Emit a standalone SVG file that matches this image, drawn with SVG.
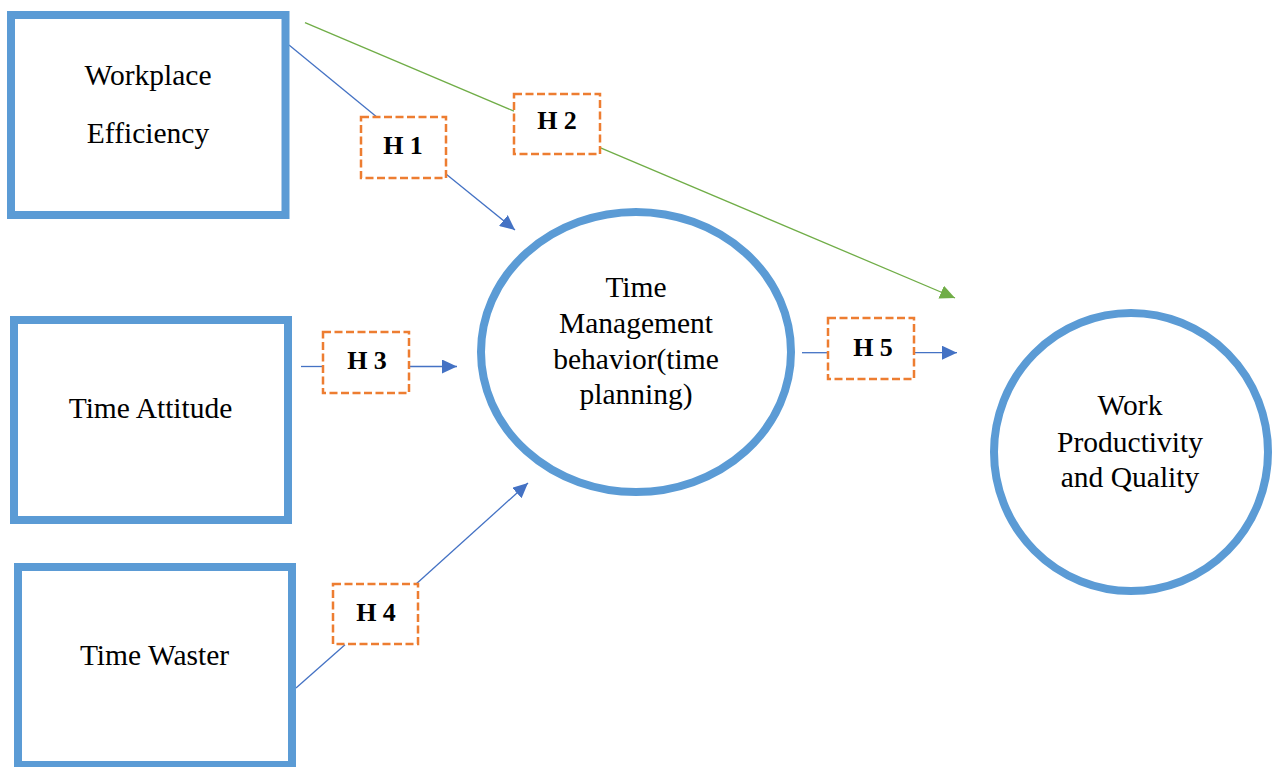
<svg xmlns="http://www.w3.org/2000/svg" width="1276" height="767" viewBox="0 0 1276 767">
<style>
.node{fill:#fff;stroke:#5B9BD5;stroke-width:8}
.lbl{font-family:"Liberation Serif","Times New Roman",serif;font-size:29.5px;fill:#000;text-anchor:middle}
.hyp{fill:#fff;stroke:#ED7D31;stroke-width:2.5;stroke-dasharray:8 3.5}
.htxt{font-family:"Liberation Serif","Times New Roman",serif;font-size:26px;font-weight:bold;fill:#000;text-anchor:middle}
.blue{stroke:#4472C4;stroke-width:1.3;fill:none}
.green{stroke:#70AD47;stroke-width:1.3;fill:none}
</style>
<defs>
<marker id="ab" markerWidth="15" markerHeight="14" refX="15" refY="7" orient="auto" markerUnits="userSpaceOnUse"><path d="M0,0 L15,7 L0,14 Z" fill="#4472C4"/></marker>
<marker id="ag" markerWidth="15" markerHeight="14" refX="15" refY="7" orient="auto" markerUnits="userSpaceOnUse"><path d="M0,0 L15,7 L0,14 Z" fill="#70AD47"/></marker>
</defs>
<rect width="1276" height="767" fill="#fff"/>
<g id="connectors">
<line class="blue" x1="289" y1="45" x2="378" y2="118"/>
<line class="blue" x1="446" y1="174" x2="515" y2="230" marker-end="url(#ab)"/>
<line class="green" x1="305" y1="22.7" x2="514" y2="111.2"/>
<line class="green" x1="600" y1="147.6" x2="955" y2="298" marker-end="url(#ag)"/>
<line class="blue" x1="301" y1="366.5" x2="323" y2="366.5"/>
<line class="blue" x1="409" y1="366.5" x2="457" y2="366.5" marker-end="url(#ab)"/>
<line class="blue" x1="296" y1="688" x2="345" y2="644.7"/>
<line class="blue" x1="415" y1="585" x2="528" y2="483" marker-end="url(#ab)"/>
<line class="blue" x1="802" y1="352.7" x2="828" y2="352.7"/>
<line class="blue" x1="914" y1="352.7" x2="957" y2="352.7" marker-end="url(#ab)"/>
</g>
<g id="workplace-efficiency">
<rect class="node" x="11" y="15" width="274.5" height="200"/>
<text class="lbl" x="148" y="85">Workplace</text>
<text class="lbl" x="148" y="143">Efficiency</text>
</g>
<g id="time-attitude">
<rect class="node" x="14" y="320" width="274" height="200"/>
<text class="lbl" x="150.5" y="418">Time Attitude</text>
</g>
<g id="time-waster">
<rect class="node" x="18" y="567" width="274" height="198"/>
<text class="lbl" x="154.5" y="665">Time Waster</text>
</g>
<g id="time-management">
<ellipse class="node" cx="636" cy="352" rx="155" ry="140"/>
<text class="lbl" x="636" y="297">Time</text>
<text class="lbl" x="636" y="333">Management</text>
<text class="lbl" x="636" y="369">behavior(time</text>
<text class="lbl" x="636" y="404">planning)</text>
</g>
<g id="work-productivity">
<ellipse class="node" cx="1131" cy="452" rx="137" ry="139"/>
<text class="lbl" x="1130" y="415">Work</text>
<text class="lbl" x="1130" y="452">Productivity</text>
<text class="lbl" x="1130" y="487">and Quality</text>
</g>
<g id="h1">
<rect class="hyp" x="361" y="117" width="85" height="61"/>
<text class="htxt" x="403" y="154">H 1</text>
</g>
<g id="h2">
<rect class="hyp" x="514" y="94" width="86" height="60"/>
<text class="htxt" x="557" y="129">H 2</text>
</g>
<g id="h3">
<rect class="hyp" x="323" y="332" width="86" height="61"/>
<text class="htxt" x="367" y="369">H 3</text>
</g>
<g id="h4">
<rect class="hyp" x="333" y="584" width="85" height="60"/>
<text class="htxt" x="376" y="621">H 4</text>
</g>
<g id="h5">
<rect class="hyp" x="828" y="318" width="86" height="61"/>
<text class="htxt" x="873" y="356">H 5</text>
</g>
</svg>
